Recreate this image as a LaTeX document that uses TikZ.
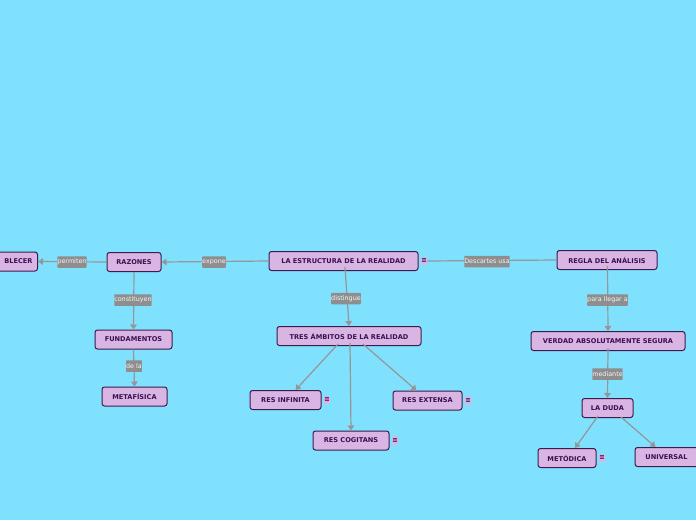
\documentclass[tikz,border=0pt]{standalone}
\usepackage{fontspec}
\setmainfont{DejaVu Sans}
\usetikzlibrary{arrows.meta}
\definecolor{bg}{HTML}{80E1FF}
\definecolor{nfill}{HTML}{D9B5E3}
\definecolor{nline}{HTML}{3E1A4E}
\definecolor{ntext}{HTML}{3A1050}
\definecolor{lfill}{HTML}{8E8E8E}
\definecolor{edge}{HTML}{969696}
\tikzset{
  concept/.style={draw=nline, fill=nfill, line width=1pt, rounded corners=2.5pt,
    text=ntext, font=\fontsize{6.6}{7.5}\selectfont\bfseries, inner sep=0pt,
    minimum height=19pt, align=center},
  lab/.style={fill=lfill, text=white!92!gray, font=\fontsize{6.4}{7}\selectfont,
    inner xsep=3.5pt, inner sep=0pt, minimum height=11.5pt, rounded corners=0.6pt},
  ico/.style={fill=nfill, text=ntext, font=\fontsize{6.5}{7}\selectfont\bfseries,
    inner sep=0pt, minimum width=6.5pt, minimum height=8.5pt},
  conn/.style={draw=edge, line width=1.2pt},
  arr/.style={conn, -{Triangle[length=5pt,width=6.5pt]}},
}
\begin{document}
\begin{tikzpicture}[x=1pt,y=-1pt]
\useasboundingbox (0,0) rectangle (696,520);
\clip (0,0) rectangle (696,520);
\fill[bg] (0,0) rectangle (696,520);

% concept nodes
\node[concept, anchor=east, text width=54pt, align=right, inner xsep=5pt] (est) at (38,261.5) {BLECER};
\node[concept, minimum width=54pt] (raz) at (134,262) {RAZONES};
\node[concept, minimum width=149pt] (estr) at (343.5,261) {LA ESTRUCTURA DE LA REALIDAD};
\node[ico] (iestr) at (424,261) {≡};
\node[concept, minimum width=100pt] (regla) at (607,260) {REGLA DEL ANÁLISIS};
\node[concept, minimum width=77pt] (fund) at (133.5,339.5) {FUNDAMENTOS};
\node[concept, minimum width=65pt] (meta) at (134.5,396.5) {METAFÍSICA};
\node[concept, minimum width=144pt] (tres) at (349,336) {TRES ÁMBITOS DE LA REALIDAD};
\node[concept, minimum width=71pt] (inf) at (285.5,400) {RES INFINITA};
\node[ico] (iinf) at (327,400) {≡};
\node[concept, minimum width=69pt] (ext) at (427.5,400.5) {RES EXTENSA};
\node[ico] (iext) at (468,400.5) {≡};
\node[concept, minimum width=76pt] (cog) at (351,440.5) {RES COGITANS};
\node[ico] (icog) at (395,440.5) {≡};
\node[concept, minimum width=154pt] (verd) at (608,341) {VERDAD ABSOLUTAMENTE SEGURA};
\node[concept, minimum width=51pt] (duda) at (607.5,408) {LA DUDA};
\node[concept, minimum width=58pt] (met) at (567,458) {METÓDICA};
\node[ico] (imet) at (602,458) {≡};
\node[concept, minimum width=63pt] (uni) at (666.5,457) {UNIVERSAL};

% connectors
\draw[arr] (raz.west) -- (est.east);
\draw[arr] (estr.west) -- (raz.east);
\draw[conn] (regla.west) -- (iestr.east);
\draw[arr] ([xshift=1.5pt,yshift=4pt]estr.south) -- (tres.north);
\draw[arr] (raz.south) -- (fund.north);
\draw[arr] (fund.south) -- (meta.north);
\draw[arr] ([xshift=-11pt,yshift=2pt]tres.south) -- ([xshift=10pt]inf.north);
\draw[arr] ([xshift=1pt,yshift=3pt]tres.south) -- (cog.north);
\draw[arr] ([xshift=14pt,yshift=2pt]tres.south) -- ([xshift=-11pt]ext.north);
\draw[arr] ([xshift=0.5pt,yshift=4pt]regla.south) -- (verd.north);
\draw[arr] ([yshift=3pt]verd.south) -- (duda.north);
\draw[arr] ([xshift=-9.5pt,yshift=2pt]duda.south) -- ([xshift=8pt]met.north);
\draw[arr] ([xshift=13.5pt,yshift=1pt]duda.south) -- ([xshift=-11pt]uni.north);

% labels
\node[lab] (lperm) at (72,262) {permiten};
\node[lab] (lexp) at (214,262) {expone};
\node[lab] (ldesc) at (487,261.5) {Descartes usa};
\node[lab] (lcons) at (133,300) {constituyen};
\node[lab] (ldist) at (346,298.5) {distingue};
\node[lab] (ldela) at (134,366) {de la};
\node[lab] (lpara) at (607.5,300) {para llegar a};
\node[lab] (lmed) at (607.5,374) {mediante};
\end{tikzpicture}
\end{document}
